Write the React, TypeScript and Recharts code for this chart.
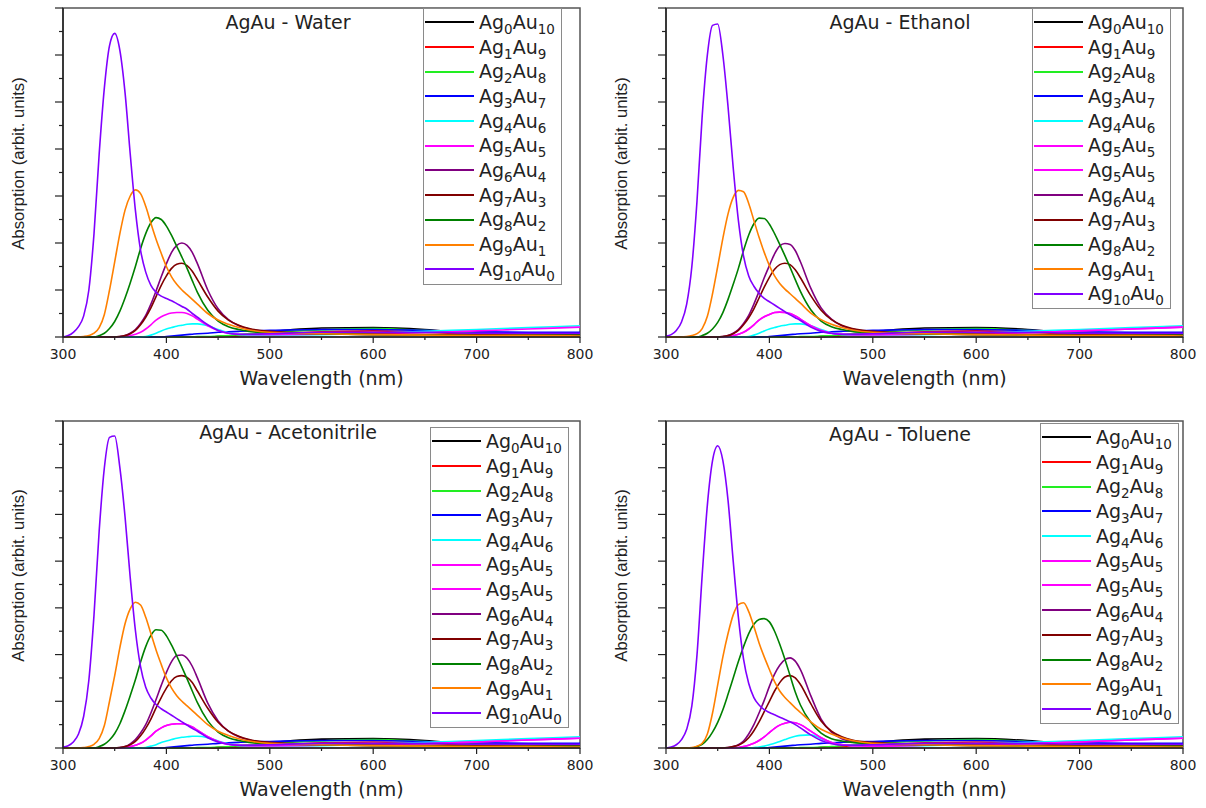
import { Label, Legend, Line, LineChart, ReferenceArea, XAxis, YAxis } from "recharts"

const FONT = "'DejaVu Sans', sans-serif"

const wavelengths = [
  300, 305, 310, 315, 320, 325, 330, 335, 340, 345,
  350, 355, 360, 365, 370, 375, 380, 385, 390, 395,
  400, 405, 410, 415, 420, 425, 430, 440, 450, 460,
  470, 480, 500, 550, 600, 650, 700, 750, 800,
]
const xTicks = [300, 350, 400, 450, 500, 550, 600, 650, 700, 750, 800]
const yTicks = [0, 0.5, 1, 1.5, 2, 2.5, 3, 3.5, 4, 4.5, 5, 5.5, 6, 6.5, 7]

// legend order: [Ag index, Au index]
const compositions = [
  ["0", "10"], ["1", "9"], ["2", "8"], ["3", "7"], ["4", "6"], ["5", "5"],
  ["6", "4"], ["7", "3"], ["8", "2"], ["9", "1"], ["10", "0"],
]
const colors = [
  "#000000", "#ff0000", "#22ee22", "#0000ff", "#00ffff", "#ff00ff",
  "#800080", "#800000", "#008000", "#ff8000", "#8000ff",
]

// low, flat curves (same in every solvent)
const ag0au10 = [
  0, 0, 0, 0, 0, 0, 0, 0, 0, 0,
  0, 0, 0, 0, 0, 0, 0, 0, 0, 0,
  0, 0, 0, 0, 0, 0, 0, 0, 0.01, 0.02,
  0.04, 0.06, 0.11, 0.19, 0.2, 0.16, 0.07, 0.05, 0.05,
]
const ag1au9 = [
  0, 0, 0, 0, 0, 0, 0, 0, 0, 0,
  0, 0, 0, 0, 0, 0, 0, 0, 0, 0,
  0, 0, 0, 0, 0, 0, 0, 0, 0.01, 0.02,
  0.03, 0.05, 0.07, 0.11, 0.13, 0.1, 0.06, 0.04, 0.03,
]
const ag2au8 = [
  0, 0, 0, 0, 0, 0, 0, 0, 0, 0,
  0, 0, 0, 0, 0, 0, 0, 0, 0, 0,
  0, 0, 0, 0, 0, 0, 0.01, 0.01, 0.02, 0.03,
  0.05, 0.07, 0.1, 0.15, 0.18, 0.14, 0.09, 0.07, 0.07,
]
const ag3au7 = [
  0, 0, 0, 0, 0, 0, 0, 0, 0, 0,
  0, 0, 0, 0, 0, 0, 0, 0, 0, 0,
  0.01, 0.02, 0.03, 0.04, 0.05, 0.06, 0.07, 0.08, 0.1, 0.11,
  0.12, 0.13, 0.14, 0.16, 0.16, 0.14, 0.11, 0.1, 0.1,
]

const water = [
  ag0au10, ag1au9, ag2au8, ag3au7,
  [0, 0, 0, 0, 0, 0, 0, 0, 0, 0,
    0, 0, 0, 0, 0, 0, 0.01, 0.04, 0.08, 0.13,
    0.17, 0.2, 0.23, 0.25, 0.27, 0.28, 0.28, 0.24, 0.16, 0.09,
    0.05, 0.04, 0.04, 0.05, 0.08, 0.12, 0.16, 0.2, 0.24],
  [0, 0, 0, 0, 0, 0, 0, 0, 0, 0,
    0, 0, 0.01, 0.03, 0.06, 0.1, 0.17, 0.26, 0.36, 0.43,
    0.48, 0.51, 0.52, 0.52, 0.5, 0.45, 0.38, 0.24, 0.14, 0.08,
    0.06, 0.05, 0.05, 0.06, 0.07, 0.09, 0.13, 0.17, 0.21],
  [0, 0, 0, 0, 0, 0, 0, 0, 0, 0,
    0, 0.01, 0.03, 0.08, 0.16, 0.29, 0.46, 0.7, 0.98, 1.28,
    1.56, 1.8, 1.95, 2.0, 1.95, 1.8, 1.56, 1.0, 0.6, 0.37,
    0.24, 0.17, 0.11, 0.07, 0.05, 0.04, 0.03, 0.03, 0.03],
  [0, 0, 0, 0, 0, 0, 0, 0, 0, 0,
    0, 0.01, 0.03, 0.07, 0.14, 0.26, 0.42, 0.62, 0.86, 1.1,
    1.3, 1.46, 1.55, 1.57, 1.52, 1.4, 1.22, 0.85, 0.55, 0.36,
    0.25, 0.18, 0.12, 0.08, 0.06, 0.05, 0.04, 0.03, 0.03],
  [0, 0, 0, 0, 0, 0, 0, 0.03, 0.08, 0.18,
    0.33, 0.55, 0.83, 1.15, 1.5, 1.88, 2.2, 2.43, 2.54, 2.5,
    2.36, 2.16, 1.93, 1.7, 1.46, 1.2, 0.95, 0.57, 0.34, 0.22,
    0.16, 0.12, 0.09, 0.07, 0.05, 0.04, 0.03, 0.03, 0.03],
  [0, 0, 0, 0, 0.01, 0.03, 0.08, 0.2, 0.48, 1.0,
    1.6, 2.2, 2.7, 3.0, 3.13, 3.05, 2.78, 2.42, 2.08, 1.78,
    1.5, 1.28, 1.12, 1.0, 0.9, 0.8, 0.7, 0.5, 0.36, 0.27,
    0.2, 0.15, 0.1, 0.07, 0.05, 0.04, 0.03, 0.03, 0.02],
  [0, 0.03, 0.1, 0.22, 0.45, 1.0, 2.2, 3.9, 5.3, 6.2,
    6.46, 6.1, 5.2, 3.9, 2.7, 1.85, 1.38, 1.1, 0.95, 0.87,
    0.82, 0.77, 0.71, 0.65, 0.59, 0.5, 0.42, 0.26, 0.14, 0.08,
    0.06, 0.06, 0.07, 0.1, 0.1, 0.1, 0.08, 0.08, 0.08],
]

const ethanol = [
  ag0au10, ag1au9, ag2au8, ag3au7,
  [0, 0, 0, 0, 0, 0, 0, 0, 0, 0,
    0, 0, 0, 0, 0, 0, 0.01, 0.04, 0.08, 0.13,
    0.17, 0.2, 0.23, 0.25, 0.27, 0.28, 0.28, 0.24, 0.16, 0.09,
    0.05, 0.04, 0.04, 0.05, 0.08, 0.12, 0.16, 0.2, 0.24],
  [0, 0, 0, 0, 0, 0, 0, 0, 0, 0,
    0, 0, 0.01, 0.03, 0.06, 0.1, 0.17, 0.26, 0.36, 0.43,
    0.48, 0.52, 0.53, 0.52, 0.5, 0.45, 0.38, 0.24, 0.14, 0.08,
    0.06, 0.05, 0.05, 0.06, 0.07, 0.09, 0.13, 0.17, 0.21],
  [0, 0, 0, 0, 0, 0, 0, 0, 0, 0,
    0, 0.01, 0.03, 0.08, 0.16, 0.29, 0.46, 0.7, 0.97, 1.26,
    1.52, 1.77, 1.94, 1.99, 1.97, 1.84, 1.6, 1.04, 0.62, 0.38,
    0.24, 0.17, 0.11, 0.07, 0.05, 0.04, 0.03, 0.03, 0.03],
  [0, 0, 0, 0, 0, 0, 0, 0, 0, 0,
    0, 0.01, 0.03, 0.07, 0.14, 0.26, 0.41, 0.6, 0.83, 1.06,
    1.27, 1.44, 1.54, 1.57, 1.54, 1.43, 1.26, 0.88, 0.57, 0.37,
    0.25, 0.18, 0.12, 0.08, 0.06, 0.05, 0.04, 0.03, 0.03],
  [0, 0, 0, 0, 0, 0, 0, 0.03, 0.08, 0.17,
    0.31, 0.52, 0.8, 1.12, 1.46, 1.84, 2.17, 2.41, 2.53, 2.52,
    2.4, 2.2, 1.97, 1.73, 1.48, 1.22, 0.97, 0.58, 0.34, 0.22,
    0.16, 0.12, 0.09, 0.07, 0.05, 0.04, 0.03, 0.03, 0.03],
  [0, 0, 0, 0, 0.01, 0.03, 0.07, 0.18, 0.44, 0.92,
    1.5, 2.1, 2.62, 2.97, 3.12, 3.09, 2.84, 2.48, 2.12, 1.8,
    1.52, 1.3, 1.14, 1.02, 0.92, 0.82, 0.72, 0.51, 0.37, 0.27,
    0.2, 0.15, 0.1, 0.07, 0.05, 0.04, 0.03, 0.03, 0.02],
  [0.02, 0.05, 0.14, 0.32, 0.7, 1.5, 2.9, 4.7, 6.0, 6.63,
    6.66, 6.0, 4.9, 3.6, 2.48, 1.72, 1.3, 1.08, 0.93, 0.82,
    0.75, 0.68, 0.61, 0.54, 0.47, 0.41, 0.35, 0.21, 0.12, 0.08,
    0.06, 0.06, 0.07, 0.1, 0.1, 0.1, 0.08, 0.08, 0.08],
]

const acetonitrile = [
  ag0au10, ag1au9, ag2au8, ag3au7,
  [0, 0, 0, 0, 0, 0, 0, 0, 0, 0,
    0, 0, 0, 0, 0, 0, 0.01, 0.04, 0.07, 0.12,
    0.15, 0.18, 0.21, 0.23, 0.24, 0.25, 0.25, 0.22, 0.15, 0.09,
    0.05, 0.04, 0.04, 0.05, 0.08, 0.12, 0.16, 0.2, 0.24],
  [0, 0, 0, 0, 0, 0, 0, 0, 0, 0,
    0, 0, 0.01, 0.03, 0.06, 0.1, 0.17, 0.26, 0.36, 0.43,
    0.48, 0.51, 0.52, 0.52, 0.5, 0.45, 0.38, 0.24, 0.14, 0.08,
    0.06, 0.05, 0.05, 0.06, 0.07, 0.09, 0.13, 0.17, 0.21],
  [0, 0, 0, 0, 0, 0, 0, 0, 0, 0,
    0, 0.01, 0.03, 0.09, 0.18, 0.32, 0.5, 0.75, 1.04, 1.34,
    1.62, 1.85, 1.98, 1.99, 1.92, 1.75, 1.5, 0.96, 0.58, 0.36,
    0.24, 0.17, 0.11, 0.07, 0.05, 0.04, 0.03, 0.03, 0.03],
  [0, 0, 0, 0, 0, 0, 0, 0, 0, 0,
    0, 0.01, 0.03, 0.07, 0.14, 0.26, 0.42, 0.62, 0.86, 1.08,
    1.28, 1.44, 1.53, 1.55, 1.51, 1.4, 1.22, 0.85, 0.55, 0.36,
    0.25, 0.18, 0.12, 0.08, 0.06, 0.05, 0.04, 0.03, 0.03],
  [0, 0, 0, 0, 0, 0, 0, 0.03, 0.08, 0.17,
    0.31, 0.52, 0.8, 1.12, 1.46, 1.84, 2.17, 2.41, 2.53, 2.52,
    2.4, 2.2, 1.97, 1.73, 1.48, 1.22, 0.97, 0.58, 0.34, 0.22,
    0.16, 0.12, 0.09, 0.07, 0.05, 0.04, 0.03, 0.03, 0.03],
  [0, 0, 0, 0, 0.01, 0.03, 0.08, 0.2, 0.48, 1.0,
    1.55, 2.15, 2.66, 2.98, 3.12, 3.06, 2.8, 2.45, 2.1, 1.79,
    1.5, 1.28, 1.12, 1.0, 0.9, 0.8, 0.7, 0.5, 0.36, 0.27,
    0.2, 0.15, 0.1, 0.07, 0.05, 0.04, 0.03, 0.03, 0.02],
  [0.02, 0.05, 0.13, 0.3, 0.68, 1.45, 2.85, 4.65, 6.0, 6.65,
    6.68, 6.0, 4.95, 3.65, 2.52, 1.74, 1.3, 1.07, 0.93, 0.84,
    0.77, 0.7, 0.63, 0.56, 0.49, 0.42, 0.36, 0.22, 0.13, 0.08,
    0.06, 0.06, 0.07, 0.1, 0.1, 0.1, 0.08, 0.08, 0.08],
]

const toluene = [
  ag0au10, ag1au9, ag2au8, ag3au7,
  [0, 0, 0, 0, 0, 0, 0, 0, 0, 0,
    0, 0, 0, 0, 0, 0, 0, 0.01, 0.02, 0.04,
    0.07, 0.1, 0.14, 0.18, 0.22, 0.25, 0.27, 0.28, 0.2, 0.12,
    0.07, 0.05, 0.04, 0.05, 0.08, 0.12, 0.16, 0.2, 0.24],
  [0, 0, 0, 0, 0, 0, 0, 0, 0, 0,
    0, 0, 0, 0, 0.01, 0.03, 0.06, 0.1, 0.16, 0.24,
    0.33, 0.42, 0.49, 0.53, 0.55, 0.54, 0.5, 0.36, 0.22, 0.12,
    0.07, 0.05, 0.04, 0.06, 0.07, 0.09, 0.13, 0.17, 0.21],
  [0, 0, 0, 0, 0, 0, 0, 0, 0, 0,
    0, 0, 0.01, 0.03, 0.07, 0.15, 0.3, 0.5, 0.75, 1.02,
    1.32, 1.58, 1.77, 1.89, 1.93, 1.86, 1.68, 1.12, 0.62, 0.34,
    0.2, 0.14, 0.1, 0.07, 0.05, 0.04, 0.03, 0.03, 0.03],
  [0, 0, 0, 0, 0, 0, 0, 0, 0, 0,
    0, 0, 0.01, 0.03, 0.06, 0.12, 0.22, 0.37, 0.56, 0.78,
    1.0, 1.22, 1.4, 1.52, 1.55, 1.5, 1.36, 0.95, 0.58, 0.36,
    0.24, 0.17, 0.12, 0.08, 0.06, 0.05, 0.04, 0.03, 0.03],
  [0, 0, 0, 0, 0, 0, 0.03, 0.08, 0.18, 0.34,
    0.55, 0.82, 1.15, 1.5, 1.85, 2.17, 2.45, 2.65, 2.75, 2.77,
    2.7, 2.5, 2.22, 1.9, 1.55, 1.2, 0.92, 0.55, 0.32, 0.2,
    0.15, 0.12, 0.09, 0.07, 0.05, 0.04, 0.03, 0.03, 0.03],
  [0, 0, 0, 0, 0, 0.01, 0.04, 0.1, 0.3, 0.75,
    1.35, 1.95, 2.45, 2.85, 3.07, 3.11, 2.92, 2.6, 2.25, 1.95,
    1.68, 1.42, 1.22, 1.08, 0.97, 0.86, 0.76, 0.56, 0.4, 0.3,
    0.22, 0.16, 0.1, 0.07, 0.05, 0.04, 0.03, 0.03, 0.02],
  [0, 0.02, 0.07, 0.18, 0.4, 0.9, 2.0, 3.7, 5.2, 6.15,
    6.47, 6.15, 5.3, 4.0, 2.8, 1.9, 1.38, 1.08, 0.92, 0.82,
    0.76, 0.71, 0.66, 0.61, 0.56, 0.5, 0.43, 0.28, 0.16, 0.09,
    0.06, 0.06, 0.07, 0.1, 0.1, 0.1, 0.08, 0.08, 0.08],
]

const legendEleven = [0, 1, 2, 3, 4, 5, 6, 7, 8, 9, 10]
const legendTwelve = [0, 1, 2, 3, 4, 5, 5, 6, 7, 8, 9, 10]

const panels = [
  { title: "AgAu - Water", curves: water, legend: legendEleven, left: 0, top: 0, height: 400, titleX: 288, titleY: 22, legX: 423, legY: 8 },
  { title: "AgAu - Ethanol", curves: ethanol, legend: legendTwelve, left: 603, top: 0, height: 400, titleX: 297, titleY: 22, legX: 429, legY: 8 },
  { title: "AgAu - Acetonitrile", curves: acetonitrile, legend: legendTwelve, left: 0, top: 413, height: 398, titleX: 288, titleY: 19, legX: 430, legY: 14 },
  { title: "AgAu - Toluene", curves: toluene, legend: legendTwelve, left: 603, top: 413, height: 398, titleX: 297, titleY: 21, legX: 437, legY: 10 },
]

function XTick(props: any) {
  const { x, y, payload } = props
  const major = payload.value % 100 === 0
  return (
    <g>
      <line x1={x} x2={x} y1={y} y2={y + (major ? 6 : 3)} stroke="#222" strokeWidth={1.2} />
      {major && (
        <text x={x} y={y + 22} textAnchor="middle" fontFamily={FONT} fontSize={14} fill="#222">
          {payload.value}
        </text>
      )}
    </g>
  )
}

function YTick(props: any) {
  const { x, y, payload } = props
  const major = Number.isInteger(payload.value)
  return <line x1={x - (major ? 8 : 4)} x2={x} y1={y} y2={y} stroke="#222" strokeWidth={1.2} />
}

function LegendBox({ entries }: { entries: number[] }) {
  const sub = { fontSize: 13.5, position: "relative" as const, top: 5 }
  return (
    <div style={{ border: "1px solid #8a8a8a", background: "#fff", padding: "1px 0 2px 1px", width: 139, boxSizing: "border-box" }}>
      {entries.map((k, i) => (
        <div key={i} style={{ display: "flex", alignItems: "center", height: 24.7 }}>
          <div style={{ width: 49, borderTop: `2px solid ${colors[k]}` }} />
          <span style={{ marginLeft: 5, fontFamily: FONT, fontSize: 19, lineHeight: 1, color: "#222", whiteSpace: "nowrap" }}>
            Ag<span style={sub}>{compositions[k][0]}</span>Au<span style={sub}>{compositions[k][1]}</span>
          </span>
        </div>
      ))}
    </div>
  )
}

function Panel({ p }: { p: (typeof panels)[number] }) {
  const rows = wavelengths.map((w, i) => {
    const r: Record<string, number> = { w }
    p.curves.forEach((c, k) => (r[`s${k}`] = c[i]))
    return r
  })
  return (
    <div style={{ position: "absolute", left: p.left, top: p.top }}>
      <LineChart width={600} height={p.height} data={rows} margin={{ top: 8, right: 20, bottom: 8, left: 8 }}>
        <XAxis
          dataKey="w"
          type="number"
          domain={[300, 800]}
          ticks={xTicks}
          interval={0}
          height={55}
          tickSize={0}
          tickMargin={0}
          tickLine={false}
          tick={(t: any) => <XTick {...t} />}
          axisLine={{ stroke: "#222", strokeWidth: 1.5 }}
        >
          <Label value="Wavelength (nm)" position="insideBottom" offset={7} style={{ fontFamily: FONT, fontSize: 19, fill: "#222" }} />
        </XAxis>
        <YAxis
          type="number"
          domain={[0, 7]}
          ticks={yTicks}
          interval={0}
          width={55}
          tickSize={0}
          tickMargin={0}
          tickLine={false}
          tick={(t: any) => <YTick {...t} />}
          axisLine={{ stroke: "#222", strokeWidth: 1.5 }}
        >
          <Label
            value="Absorption (arbit. units)"
            angle={-90}
            position="insideLeft"
            offset={10}
            dy={-9}
            style={{ textAnchor: "middle", fontFamily: "'Liberation Sans', Arial, sans-serif", fontSize: 16.7, fill: "#222" }}
          />
        </YAxis>
        <ReferenceArea x1={300} x2={800} y1={0} y2={7} fill="none" fillOpacity={0} stroke="#555" strokeWidth={1.5} />
        {p.legend.map((k, i) => (
          <Line
            key={i}
            dataKey={`s${k}`}
            type="monotone"
            stroke={colors[k]}
            strokeWidth={1.6}
            dot={false}
            activeDot={false}
            isAnimationActive={false}
          />
        ))}
        <Legend
          layout="vertical"
          align="center"
          verticalAlign="middle"
          wrapperStyle={{ left: p.legX, top: p.legY, width: 139 }}
          content={() => <LegendBox entries={p.legend} />}
        />
      </LineChart>
      <div
        style={{
          position: "absolute",
          left: p.titleX,
          top: p.titleY,
          transform: "translate(-50%, -50%)",
          fontFamily: FONT,
          fontSize: 19,
          lineHeight: 1,
          color: "#222",
          whiteSpace: "nowrap",
        }}
      >
        {p.title}
      </div>
    </div>
  )
}

export default function App() {
  return (
    <div style={{ position: "absolute", left: 0, top: 0, width: 1206, height: 808, background: "#fff", overflow: "hidden" }}>
      {panels.map((p) => (
        <Panel key={p.title} p={p} />
      ))}
    </div>
  )
}
